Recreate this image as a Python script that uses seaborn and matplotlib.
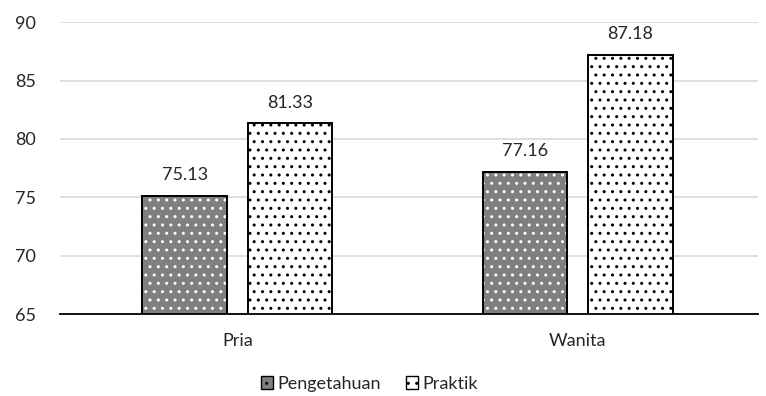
import pandas as pd
import matplotlib.pyplot as plt
import seaborn as sns
from matplotlib.patches import Rectangle

# data
groups = ["Pria", "Wanita"]
pengetahuan = [75.13, 77.16]
praktik = [81.33, 87.18]
series = ["Pengetahuan", "Praktik"]

data = pd.DataFrame({
    "group": groups * 2,
    "series": [series[0]] * 2 + [series[1]] * 2,
    "value": pengetahuan + praktik,
})

sns.set_style("white")
plt.rcParams["font.family"] = ["Lato", "DejaVu Sans"]
plt.rcParams["hatch.linewidth"] = 1.0

fig = plt.figure(figsize=(7.66, 3.96), dpi=100)
ax = fig.add_axes([0.078, 0.207, 0.912, 0.737])

fills = {"Pengetahuan": "#7f7f7f", "Praktik": "white"}
dots = {"Pengetahuan": "white", "Praktik": "black"}

sns.barplot(data=data, x="group", y="value", hue="series", palette=fills,
            width=0.62, gap=0.2, ax=ax, legend=False, edgecolor="white", linewidth=0)

# bars come in hue order: first series for each group, then second
for i, p in enumerate(ax.patches[:4]):
    s = series[i // 2]
    p.set_hatch("..")
    p.set_edgecolor(dots[s])
    ax.add_patch(Rectangle((p.get_x(), p.get_y()), p.get_width(), p.get_height(),
                           fill=False, edgecolor="black", linewidth=1.4, zorder=3))
    v = data["value"].iloc[i]
    ax.text(p.get_x() + p.get_width() / 2, p.get_height() + 1.1, f"{v:.2f}",
            ha="center", va="bottom", fontsize=13)

ax.set_xlim(-0.522, 1.531)
ax.set_ylim(65, 90)
ax.set_yticks(range(65, 91, 5))
ax.yaxis.grid(True, color="#d9d9d9", linewidth=1.2)
ax.set_axisbelow(True)
for side in ["top", "right", "left"]:
    ax.spines[side].set_visible(False)
ax.spines["bottom"].set_color("black")
ax.spines["bottom"].set_linewidth(1.3)
ax.set_xlabel("")
ax.set_ylabel("")
ax.tick_params(axis="both", length=0, labelsize=13)
ax.tick_params(axis="y", pad=17)
ax.tick_params(axis="x", pad=14)

handles = [Rectangle((0, 0), 1, 1, facecolor=fills[s], edgecolor="black",
                     hatch="..", linewidth=1) for s in series]
leg = fig.legend(handles, series, loc="lower center", ncol=2, frameon=False,
                 fontsize=13, handlelength=0.7, handleheight=0.7,
                 handletextpad=0.2, columnspacing=1.4, bbox_to_anchor=(0.482, -0.03))

plt.savefig("out.png", dpi=100)
